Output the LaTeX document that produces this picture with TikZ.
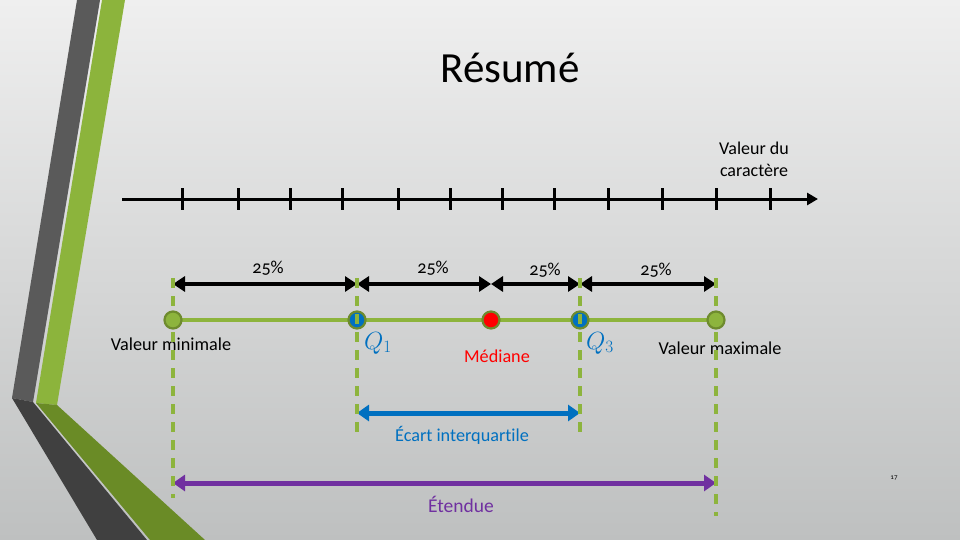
\documentclass[tikz,border=0pt]{standalone}
\usepackage{fontspec}
\setmainfont{Carlito}[Numbers=OldStyle, Ligatures=NoCommon]
\usetikzlibrary{arrows.meta}
\definecolor{bgtop}{HTML}{EFEFEF}
\definecolor{bgbot}{HTML}{BEC0C0}
\definecolor{darkband}{HTML}{5A5A5A}
\definecolor{darkbandlow}{HTML}{404040}
\definecolor{greenband}{HTML}{8CB43C}
\definecolor{greenbandlow}{HTML}{6A8B26}
\definecolor{linegreen}{HTML}{8DB43D}
\definecolor{ringgreen}{HTML}{6E8B2E}
\definecolor{qblue}{HTML}{0070C0}
\definecolor{medred}{HTML}{FF0000}
\definecolor{etpurple}{HTML}{7030A0}
\tikzset{
  txt/.style={font=\fontsize{18.2}{21}\selectfont, inner sep=0pt},
  qlabel/.style={font=\fontsize{23}{26}\selectfont, text=qblue, inner sep=0pt},
  blackarr/.style={line width=4pt, {Triangle[length=12pt,width=15pt]}-{Triangle[length=12pt,width=15pt]}},
  bluearr/.style={line width=5pt, draw=qblue, {Triangle[length=12pt,width=16pt]}-{Triangle[length=12pt,width=16pt]}},
  purparr/.style={line width=5pt, draw=etpurple, {Triangle[length=12pt,width=16pt]}-{Triangle[length=12pt,width=16pt]}},
  guide/.style={draw=linegreen, line width=3.2pt, dash pattern=on 10pt off 8pt},
  dot/.style={circle, minimum size=17pt, inner sep=0pt, draw=ringgreen, line width=2.2pt},
  tick/.style={line width=3pt},
}
\begin{document}
\begin{tikzpicture}[x=1pt,y=-1pt]
\useasboundingbox (0,0) rectangle (960,540);
% background
\shade[top color=bgtop, bottom color=bgbot] (0,0) rectangle (960,540);
% decorative bands
\fill[darkband] (77,0) -- (100,0) -- (33,402) -- (12,398) -- cycle;
\fill[darkbandlow] (12,398) -- (33,402) -- (147,540) -- (97,540) -- cycle;
\fill[greenband] (102,0) -- (125,0) -- (57,405) -- (36,403) -- cycle;
\fill[greenbandlow] (36,403) -- (57,405) -- (205,540) -- (150,540) -- cycle;

% title
\node[inner sep=0pt, font=\fontsize{43}{48}\selectfont] (title) at (510,68) {Résumé};

% axis
\node[txt, align=center, font=\fontsize{18}{22}\selectfont] (axlab) at (754,159) {Valeur du\\caractère};
\coordinate (axs) at (122,199);
\coordinate (axe) at (818,199);
\draw[line width=3pt, -{Triangle[length=11pt,width=12pt]}] (axs) -- (axe);
\foreach \t in {182,238,290,342,398,450,502,554,608,662,716,770}{
  \coordinate (t\t a) at (\t,188);
  \coordinate (t\t b) at (\t,210);
  \draw[tick] (t\t a) -- (t\t b);
}

% positions
\coordinate (amin) at (173,284);
\coordinate (aq1)  at (357,284);
\coordinate (amed) at (491,284);
\coordinate (aq3)  at (580,284);
\coordinate (amax) at (716,284);

% green box line
\coordinate (lmin) at (173,320);
\coordinate (lmax) at (716,320);
\draw[draw=linegreen, line width=4.5pt] (lmin) -- (lmax);
\node[dot, fill=linegreen] (dmin) at (173,320) {};
\node[dot, fill=qblue] (dq1) at (357,320) {};
\node[dot, fill=medred] (dmed) at (491,320) {};
\node[dot, fill=qblue] (dq3) at (580,320) {};
\node[dot, fill=linegreen] (dmax) at (716,320) {};

% 25% arrows
\draw[blackarr] (amin) -- (aq1);
\draw[blackarr] (aq1) -- (amed);
\draw[blackarr] (amed) -- (aq3);
\draw[blackarr] (aq3) -- (amax);
\node[txt] (p1) at (268,268) {25\%};
\node[txt] (p2) at (433,268) {25\%};
\node[txt] (p3) at (545,270) {25\%};
\node[txt] (p4) at (656,270) {25\%};

% labels
\node[txt] (lvmin) at (171,344) {Valeur minimale};
\node[qlabel] (lq1) at (378,343) {$Q_1$};
\node[txt, text=medred] (lmed) at (497,356) {Médiane};
\node[qlabel] (lq3) at (600,343) {$Q_3$};
\node[txt] (lvmax) at (720,348) {Valeur maximale};

% interquartile
\coordinate (bq1) at (357,413);
\coordinate (bq3) at (580,413);
\draw[bluearr] (bq1) -- (bq3);
\node[txt, text=qblue] (lecart) at (462,435) {Écart interquartile};

% range
\coordinate (emin) at (173,483);
\coordinate (emax) at (716,483);
\draw[purparr] (emin) -- (emax);
\node[txt, text=etpurple, font=\fontsize{19.5}{22}\selectfont] (letendue) at (461,504) {Étendue};

% page number
\node[inner sep=0pt, font=\fontsize{7}{8}\selectfont] (pgnum) at (894,478) {17};

% dashed guides
\coordinate (gmin0) at (173,278); \coordinate (gmin1) at (173,498);
\coordinate (gq10) at (357,278);  \coordinate (gq11) at (357,432);
\coordinate (gq30) at (580,278);  \coordinate (gq31) at (580,432);
\coordinate (gmax0) at (716,278); \coordinate (gmax1) at (716,516);
\draw[guide] (gmin0) -- (gmin1);
\draw[guide] (gq10) -- (gq11);
\draw[guide] (gq30) -- (gq31);
\draw[guide] (gmax0) -- (gmax1);
\end{tikzpicture}
\end{document}
